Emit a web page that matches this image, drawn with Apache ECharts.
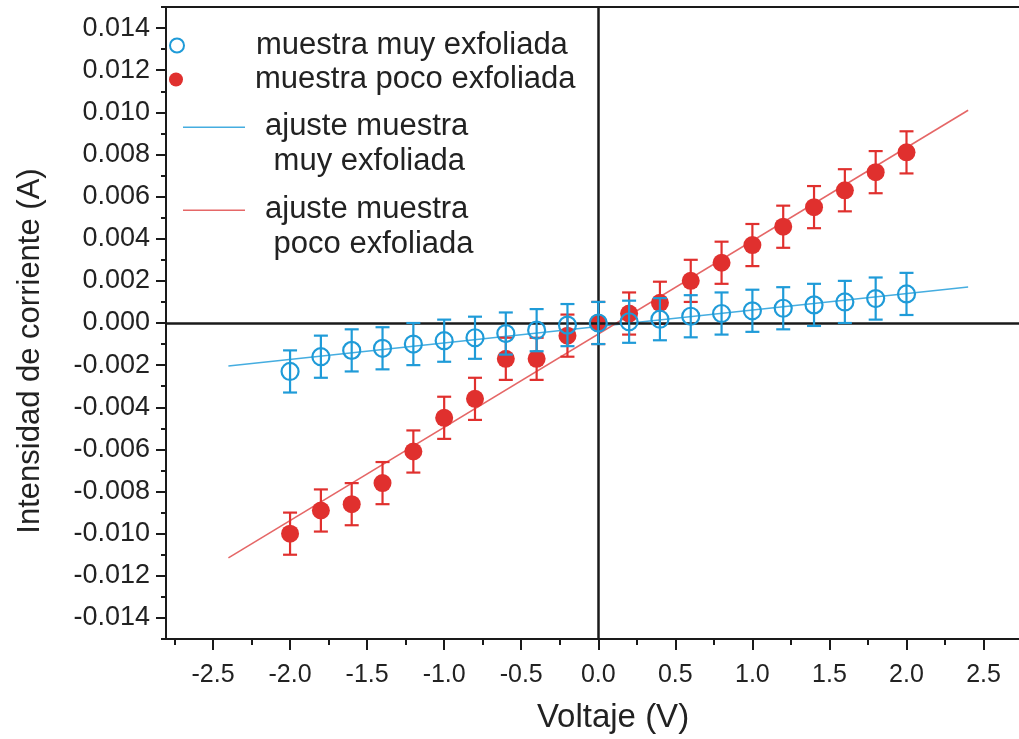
<!DOCTYPE html>
<html>
<head>
<meta charset="utf-8">
<script src="https://cdn.jsdelivr.net/npm/echarts@6/dist/echarts.min.js"></script>
<style>html,body{margin:0;padding:0;background:#fff}#c{width:1019px;height:739px}</style>
</head>
<body>
<div id="c"></div>
<script>
// Voltage (V)
var voltages = [-2.0,-1.8,-1.6,-1.4,-1.2,-1.0,-0.8,-0.6,-0.4,-0.2,0.0,0.2,0.4,0.6,0.8,1.0,1.2,1.4,1.6,1.8,2.0];
// muestra muy exfoliada (A)
var muyValues = [-0.0023,-0.0016,-0.0013,-0.0012,-0.0010,-0.00084,-0.0007,-0.0005,-0.00034,-0.0001,0.0,0.00006,0.00018,0.00032,0.00045,0.00058,0.0007,0.00086,0.0010,0.00116,0.00138];
var muyErrors = [0.001,0.001,0.001,0.001,0.001,0.001,0.001,0.001,0.001,0.001,0.001,0.001,0.001,0.001,0.001,0.001,0.001,0.001,0.001,0.001,0.001];
// muestra poco exfoliada (A)
var pocoValues = [-0.0100,-0.0089,-0.0086,-0.0076,-0.0061,-0.0045,-0.0036,-0.0017,-0.0017,-0.0006,0.0,0.00045,0.00096,0.0020,0.00286,0.0037,0.00457,0.0055,0.0063,0.00716,0.0081];
var pocoErrors = [0.001,0.001,0.001,0.001,0.001,0.001,0.001,0.001,0.001,0.001,0.001,0.001,0.001,0.001,0.001,0.001,0.001,0.001,0.001,0.001,0.001];
// fit lines (endpoints)
var fitMuyX = [-2.4, 2.4];
var fitMuyY = [-0.00204, 0.00171];
var fitPocoX = [-2.4, 2.4];
var fitPocoY = [-0.01115, 0.0101];
// ticks
var xMajorTicks = [-2.5,-2.0,-1.5,-1.0,-0.5,0.0,0.5,1.0,1.5,2.0,2.5];
var xMinorTicks = [-2.75,-2.25,-1.75,-1.25,-0.75,-0.25,0.25,0.75,1.25,1.75,2.25];
var yMajorTicks = [-0.014,-0.012,-0.010,-0.008,-0.006,-0.004,-0.002,0.000,0.002,0.004,0.006,0.008,0.010,0.012,0.014];
var yMinorTicks = [-0.015,-0.013,-0.011,-0.009,-0.007,-0.005,-0.003,-0.001,0.001,0.003,0.005,0.007,0.009,0.011,0.013,0.015];

var names = ['muestra muy exfoliada','muestra poco exfoliada','ajuste muestra\n muy exfoliada','ajuste muestra\n poco exfoliada'];
var BLUE = '#1f9bd8', RED = '#e0302e', BLUE_FIT = '#45ade0', RED_FIT = '#e56767', INK = '#1a1a1a';
var FONT = "'Liberation Sans', Arial, Helvetica, sans-serif";

function pts(xs, ys) { return xs.map(function (x, i) { return [x, ys[i]]; }); }
function errData(xs, ys, es) { return xs.map(function (x, i) { return [x, ys[i], es[i]]; }); }

function errRender(color) {
  return function (params, api) {
    var x = api.value(0), y = api.value(1), e = api.value(2);
    var lo = api.coord([x, y - e]), hi = api.coord([x, y + e]);
    var w = 7;
    var st = { stroke: color, lineWidth: 2.2 };
    return { type: 'group', children: [
      { type: 'line', shape: { x1: lo[0], y1: lo[1], x2: hi[0], y2: hi[1] }, style: st },
      { type: 'line', shape: { x1: lo[0] - w, y1: lo[1], x2: lo[0] + w, y2: lo[1] }, style: st },
      { type: 'line', shape: { x1: hi[0] - w, y1: hi[1], x2: hi[0] + w, y2: hi[1] }, style: st }
    ]};
  };
}

var chart = echarts.init(document.getElementById('c'), null, { renderer: 'canvas' });

var legendText = { fontFamily: FONT, fontSize: 31, color: '#222', lineHeight: 35 };
var lineIcon = 'path://M0,0H62V1.6H0Z M0,35H0.01V35.01H0Z';

chart.setOption({
  animation: false,
  backgroundColor: '#fff',
  grid: { left: 166, right: 0, top: 7, bottom: 99, show: false, containLabel: false },
  legend: [
    { data: [{ name: names[0], itemStyle: { color: '#fff', borderColor: BLUE, borderWidth: 2 } }], left: 169, top: 28, padding: 0, itemWidth: 14, itemHeight: 14, icon: 'circle',
      textStyle: Object.assign({}, legendText, { padding: [0, 0, 0, 67] }), selectedMode: false },
    { data: [{ name: names[1], itemStyle: { color: RED } }], left: 169, top: 62, padding: 0, itemWidth: 14, itemHeight: 14, icon: 'circle',
      textStyle: Object.assign({}, legendText, { padding: [0, 0, 0, 67] }), selectedMode: false },
    { data: [{ name: names[2], icon: lineIcon, itemStyle: { color: BLUE_FIT } }], left: 183, top: 109, padding: 0, itemWidth: 62, itemHeight: 35, symbolKeepAspect: false,
      textStyle: Object.assign({}, legendText, { padding: [0, 0, 0, 15] }), selectedMode: false },
    { data: [{ name: names[3], icon: lineIcon, itemStyle: { color: RED_FIT } }], left: 183, top: 192, padding: 0, itemWidth: 62, itemHeight: 35, symbolKeepAspect: false,
      textStyle: Object.assign({}, legendText, { padding: [0, 0, 0, 15] }), selectedMode: false }
  ],
  xAxis: [
    { type: 'value', min: -2.805, max: 2.73, position: 'bottom',
      axisLine: { show: true, onZero: false, lineStyle: { color: INK, width: 2 } },
      axisTick: { show: true, customValues: xMajorTicks, length: 11, lineStyle: { color: INK, width: 2 } },
      axisLabel: { show: true, customValues: xMajorTicks, margin: 24, fontFamily: FONT, fontSize: 25, color: '#222',
        formatter: function (v) { return v.toFixed(1); } },
      splitLine: { show: false },
      name: 'Voltaje (V)', nameLocation: 'middle', nameGap: 62,
      nameTextStyle: { fontFamily: FONT, fontSize: 33, color: '#222', padding: [0, 0, 0, 41] } },
    { type: 'value', min: -2.805, max: 2.73, position: 'bottom',
      axisLine: { show: false, onZero: false },
      axisTick: { show: true, customValues: xMinorTicks, length: 6, lineStyle: { color: INK, width: 2 } },
      axisLabel: { show: false }, splitLine: { show: false } },
    { type: 'value', min: -2.805, max: 2.73, position: 'top',
      axisLine: { show: true, onZero: false, lineStyle: { color: INK, width: 2 } },
      axisTick: { show: false }, axisLabel: { show: false }, splitLine: { show: false } }
  ],
  yAxis: [
    { type: 'value', min: -0.015, max: 0.015, position: 'left',
      axisLine: { show: true, onZero: false, lineStyle: { color: INK, width: 2 } },
      axisTick: { show: true, customValues: yMajorTicks, length: 10, lineStyle: { color: INK, width: 2 } },
      axisLabel: { show: true, customValues: yMajorTicks, margin: 16, fontFamily: FONT, fontSize: 27, color: '#222',
        formatter: function (v) { var s = Math.abs(v).toFixed(3); return (v < -1e-9 ? '-' : '') + s; } },
      splitLine: { show: false },
      name: 'Intensidad de corriente (A)', nameLocation: 'middle', nameGap: 120,
      nameTextStyle: { fontFamily: FONT, fontSize: 31, color: '#222', padding: [0, 56, 0, 0] } },
    { type: 'value', min: -0.015, max: 0.015, position: 'left',
      axisLine: { show: false, onZero: false },
      axisTick: { show: true, customValues: yMinorTicks, length: 5, lineStyle: { color: INK, width: 2 } },
      axisLabel: { show: false }, splitLine: { show: false } }
  ],
  series: [
    { name: names[2], type: 'line', data: pts(fitMuyX, fitMuyY), symbol: 'none', showSymbol: false,
      lineStyle: { color: BLUE_FIT, width: 1.6 }, itemStyle: { color: BLUE_FIT }, z: 2,
      markLine: { silent: true, symbol: 'none', label: { show: false },
        lineStyle: { color: INK, width: 2.5, type: 'solid' },
        data: [{ xAxis: 0 }, { yAxis: 0 }] } },
    { name: names[3], type: 'line', data: pts(fitPocoX, fitPocoY), symbol: 'none', showSymbol: false,
      lineStyle: { color: RED_FIT, width: 1.6 }, itemStyle: { color: RED_FIT }, z: 2 },
    { name: 'err poco', type: 'custom', renderItem: errRender(RED), data: errData(voltages, pocoValues, pocoErrors),
      encode: { x: 0, y: 1 }, z: 3 },
    { name: names[1], type: 'scatter', data: pts(voltages, pocoValues), symbol: 'circle', symbolSize: 18,
      itemStyle: { color: RED, opacity: 1 }, z: 4 },
    { name: 'err muy', type: 'custom', renderItem: errRender(BLUE), data: errData(voltages, muyValues, muyErrors),
      encode: { x: 0, y: 1 }, z: 5 },
    { name: names[0], type: 'scatter', data: pts(voltages, muyValues), symbol: 'circle', symbolSize: 17,
      itemStyle: { color: 'rgba(255,255,255,0)', borderColor: BLUE, borderWidth: 2.2, opacity: 1 }, z: 6 }
  ]
});
</script>
</body>
</html>
